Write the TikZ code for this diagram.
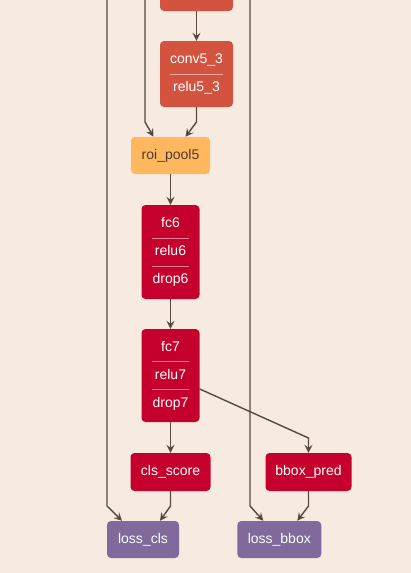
\documentclass[tikz,border=0pt]{standalone}
\usepackage{fontspec}
\setmainfont{Liberation Sans}
\usetikzlibrary{arrows.meta,positioning}
\definecolor{paper}{HTML}{F7EBE1}
\definecolor{convc}{HTML}{D4533F}
\definecolor{fcc}{HTML}{C6002D}
\definecolor{poolc}{HTML}{FFB85E}
\definecolor{lossc}{HTML}{7F6A9B}
\definecolor{edgec}{HTML}{5B4740}
\definecolor{darktext}{HTML}{4A3A33}
\tikzset{
  >={Stealth[length=8pt,width=8pt,inset=3pt]},
  every node/.style={font=\fontsize{14}{28}\selectfont, text=white},
  layer/.style={
    rounded corners=4pt,
    inner sep=0pt,
    align=center
  },
  convbox/.style={layer, fill=convc, minimum width=73pt, minimum height=66pt},
  poolbox/.style={layer, fill=poolc, text=darktext, minimum width=79pt, minimum height=37pt},
  fcbox/.style={layer, fill=fcc, minimum width=58pt, minimum height=93pt},
  predbox/.style={layer, fill=fcc, minimum height=38pt},
  lossbox/.style={layer, fill=lossc, minimum height=37pt},
  divider/.style={draw=white, draw opacity=0.5, line width=0.6pt},
  edge/.style={->, line width=1.4pt, draw=edgec, line join=miter}
}
\begin{document}
\begin{tikzpicture}[x=1pt, y=-1pt]
  \fill[paper] (0,0) rectangle (411,573);
  \useasboundingbox (0,0) rectangle (411,573);
  \clip (0,0) rectangle (411,573);

  % Layers
  \node[convbox] (conv52) at (196.5,-22) {};
  \node[convbox] (conv53) at (196.5,74) {conv5\_3\\relu5\_3};
  \node[poolbox] (roipool) at (170.5,155.5) {roi\_pool5};
  \node[fcbox, minimum height=94pt] (fc6) at (170.5,252) {fc6\\relu6\\drop6};
  \node[fcbox] (fc7) at (170.5,375.5) {fc7\\relu7\\drop7};
  \node[predbox, minimum width=80pt] (clsscore) at (170.5,472) {cls\_score};
  \node[predbox, minimum width=86pt] (bboxpred) at (308.5,472) {bbox\_pred};
  \node[lossbox, minimum width=72pt] (losscls) at (143,539.5) {loss\_cls};
  \node[lossbox, minimum width=84pt] (lossbbox) at (279.3,539.5) {loss\_bbox};

  % Dividers inside the merged layers
  \draw[divider] ([shift={(-26.5,0)}]conv53.center) -- ([shift={(26.5,0)}]conv53.center);
  \draw[divider] ([shift={(-18.5,-14)}]fc6.center) -- ([shift={(18.5,-14)}]fc6.center);
  \draw[divider] ([shift={(-18.5,14)}]fc6.center) -- ([shift={(18.5,14)}]fc6.center);
  \draw[divider] ([shift={(-18.5,-14)}]fc7.center) -- ([shift={(18.5,-14)}]fc7.center);
  \draw[divider] ([shift={(-18.5,14)}]fc7.center) -- ([shift={(18.5,14)}]fc7.center);

  % Inputs coming from above
  \coordinate (labels) at (107,0);
  \coordinate (rois) at (145,0);
  \coordinate (bboxtargets) at (250,0);

  % Connections
  \draw[edge] (conv52.south) -- (conv53.north);
  \draw[edge] (rois) -- (145,122) -- ([xshift=-17pt]roipool.north);
  \draw[edge] (conv53.south) -- (196.5,122) -- ([xshift=15pt]roipool.north);
  \draw[edge] (roipool) -- (fc6);
  \draw[edge] (fc6) -- (fc7);
  \draw[edge] (fc7) -- (clsscore);
  \draw[edge] ([yshift=-13.5pt]fc7.east) -- (308.5,438) -- (bboxpred.north);
  \draw[edge] (labels) -- (107,506) -- ([xshift=-21pt]losscls.north);
  \draw[edge] (clsscore.south) -- (170.5,506) -- ([xshift=17pt]losscls.north);
  \draw[edge] (bboxtargets) -- (250,506) -- ([xshift=-16pt]lossbbox.north);
  \draw[edge] (bboxpred.south) -- (308.5,506) -- ([xshift=18pt]lossbbox.north);
\end{tikzpicture}
\end{document}
